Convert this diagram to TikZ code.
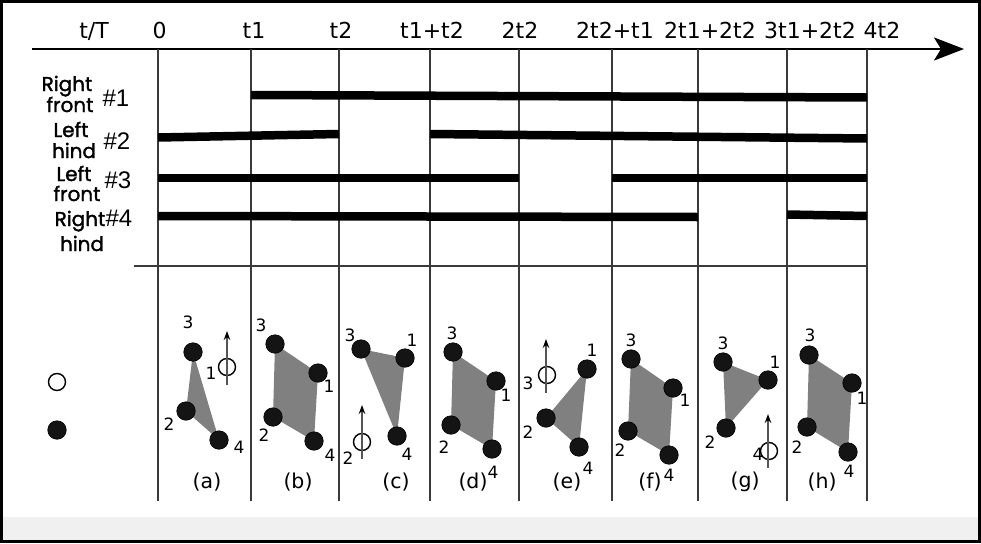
\documentclass[tikz,border=0pt]{standalone}
\usepackage{fontspec}
\setmainfont{DejaVu Sans}
\newfontfamily\legfont{Poppins}[FakeBold=1.6]
\newfontfamily\hashfont{Liberation Sans}
\usetikzlibrary{arrows.meta}
\definecolor{polygray}{HTML}{808080}
\definecolor{dotblack}{HTML}{141414}
\definecolor{bandgray}{HTML}{F0F0F0}
\definecolor{gridgray}{HTML}{3A3A3A}
\definecolor{arrgray}{HTML}{555555}
\tikzset{
 axislbl/.style={font=\fontsize{22}{24}\selectfont, anchor=base, inner sep=0pt},
 leglbl/.style={font=\legfont\fontsize{20}{22}\selectfont, anchor=base, inner sep=0pt},
 hashlbl/.style={font=\hashfont\fontsize{24}{26}\selectfont, anchor=base, inner sep=0pt},
 numlbl/.style={font=\fontsize{17}{19}\selectfont, inner sep=0pt},
 panlbl/.style={font=\fontsize{20.5}{22}\selectfont, inner sep=0pt},
 dot/.style={circle, fill=dotblack, draw=black, line width=0.6pt, minimum size=18.5pt, inner sep=0pt},
 odot/.style={circle, draw=black, line width=1.4pt, minimum size=17pt, inner sep=0pt},
 bar/.style={line width=8.5pt, black},
 gridv/.style={line width=1.5pt, gridgray},
 gridh/.style={line width=1.2pt, gridgray},
 liftarrow/.style={arrgray, line width=1.4pt, -{Stealth[length=9pt,width=6.5pt,color=black]}},
 supportpoly/.style={fill=polygray},
 timeaxis/.style={line width=2.7pt, black, -{Stealth[length=30pt,width=23pt,inset=7pt]}},
}
\begin{document}
\begin{tikzpicture}[x=1pt,y=-1pt]
\useasboundingbox (0,0) rectangle (981,543);
% background band and frame
\fill[bandgray] (3,517) rectangle (978,540);
\draw[line width=3pt] (1.5,1.5) rectangle (979.5,541.5);

% time axis
\coordinate (axs) at (32,49);
\coordinate (axe) at (964,49);
\draw[timeaxis] (axs) -- (axe);

% axis labels
\node[axislbl] (lT) at (94,38) {t/T};
\node[axislbl] (l0) at (159.5,38) {0};
\node[axislbl] (l1) at (254,38) {t1};
\node[axislbl] (l2) at (341,38) {t2};
\node[axislbl] (l3) at (432,38) {t1+t2};
\node[axislbl] (l4) at (520,38) {2t2};
\node[axislbl] (l5) at (615,38) {2t2+t1};
\node[axislbl] (l6) at (710,38) {2t1+2t2};
\node[axislbl] (l7) at (810,38) {3t1+2t2};
\node[axislbl] (l8) at (882,38) {4t2};

% grid
\foreach \xx [count=\i] in {158,251,339,430,519,612,698,787,867}{
  \coordinate (gt\i) at (\xx,49);
  \coordinate (gb\i) at (\xx,501);
  \draw[gridv] (gt\i) -- (gb\i);
}
\coordinate (hl) at (134,266);
\coordinate (hr) at (867,266);
\draw[gridh] (hl) -- (hr);

% leg labels
\node[leglbl] (w1a) at (67,91) {Right};
\node[leglbl] (w1b) at (70,112) {front};
\node[hashlbl] (h1) at (116,106) {\#1};
\node[leglbl] (w2a) at (71,137) {Left};
\node[leglbl] (w2b) at (74,158) {hind};
\node[hashlbl] (h2) at (117,149) {\#2};
\node[leglbl] (w3a) at (74,181) {Left};
\node[leglbl] (w3b) at (77,201) {front};
\node[hashlbl] (h3) at (118,188) {\#3};
\node[leglbl] (w4a) at (80,226) {Right};
\node[leglbl] (w4b) at (82,251) {hind};
\node[hashlbl] (h4) at (119,226) {\#4};

% stance bars
\draw[bar] (251,95) -- (867,97.5);
\draw[bar] (158,137.5) -- (339,134);
\draw[bar] (430,134) -- (867,138.5);
\draw[bar] (158,178) -- (519,178);
\draw[bar] (612,178) -- (867,178);
\draw[bar] (158,216) -- (698,217);
\draw[bar] (787,214.5) -- (867,216);

% legend
\node[odot] (legopen) at (57,382) {};
\node[dot] (legfill) at (57,430) {};

% ---------- panel (a)
\coordinate (a3) at (193,352); \coordinate (a2) at (186,411); \coordinate (a4) at (219,440);
\fill[supportpoly] (a3) -- (a2) -- (a4) -- cycle;
\node[dot] (a3d) at (a3) {}; \node[dot] (a2d) at (a2) {}; \node[dot] (a4d) at (a4) {};
\node[odot] (a1o) at (227,367) {};
\coordinate (a1b) at (227,385); \coordinate (a1t) at (227,331);
\draw[liftarrow] (a1b) -- (a1t);
\node[numlbl] (a3l) at (188,322) {3};
\node[numlbl] (a1l) at (211,373) {1};
\node[numlbl] (a2l) at (169,424) {2};
\node[numlbl] (a4l) at (239,447) {4};
\node[panlbl] (pa) at (207,482) {(a)};

% ---------- panel (b)
\coordinate (b3) at (275,344); \coordinate (b1) at (318,373); \coordinate (b4) at (314,441); \coordinate (b2) at (273,417);
\fill[supportpoly] (b3) -- (b1) -- (b4) -- (b2) -- cycle;
\node[dot] (b3d) at (b3) {}; \node[dot] (b1d) at (b1) {}; \node[dot] (b4d) at (b4) {}; \node[dot] (b2d) at (b2) {};
\node[numlbl] (b3l) at (261,325) {3};
\node[numlbl] (b1l) at (329,386) {1};
\node[numlbl] (b2l) at (264,435) {2};
\node[numlbl] (b4l) at (330,455) {4};
\node[panlbl] (pb) at (298,482) {(b)};

% ---------- panel (c)
\coordinate (c3) at (361,349); \coordinate (c1) at (405,358); \coordinate (c4) at (397,436);
\fill[supportpoly] (c3) -- (c1) -- (c4) -- cycle;
\node[dot] (c3d) at (c3) {}; \node[dot] (c1d) at (c1) {}; \node[dot] (c4d) at (c4) {};
\node[odot] (c2o) at (362,442) {};
\coordinate (c2b) at (362,459); \coordinate (c2t) at (362,405);
\draw[liftarrow] (c2b) -- (c2t);
\node[numlbl] (c3l) at (350,335) {3};
\node[numlbl] (c1l) at (412,340) {1};
\node[numlbl] (c2l) at (348,458) {2};
\node[numlbl] (c4l) at (407,454) {4};
\node[panlbl] (pc) at (396,482) {(c)};

% ---------- panel (d)
\coordinate (d3) at (453,352); \coordinate (d1) at (496,381); \coordinate (d4) at (492,449); \coordinate (d2) at (451,425);
\fill[supportpoly] (d3) -- (d1) -- (d4) -- (d2) -- cycle;
\node[dot] (d3d) at (d3) {}; \node[dot] (d1d) at (d1) {}; \node[dot] (d4d) at (d4) {}; \node[dot] (d2d) at (d2) {};
\node[numlbl] (d3l) at (452,333) {3};
\node[numlbl] (d1l) at (506,395) {1};
\node[numlbl] (d2l) at (444,447) {2};
\node[numlbl] (d4l) at (493,472) {4};
\node[panlbl] (pd) at (473,482) {(d)};

% ---------- panel (e)
\coordinate (e1) at (587,369); \coordinate (e2) at (546,418); \coordinate (e4) at (579,447);
\fill[supportpoly] (e1) -- (e2) -- (e4) -- cycle;
\node[dot] (e1d) at (e1) {}; \node[dot] (e2d) at (e2) {}; \node[dot] (e4d) at (e4) {};
\node[odot] (e3o) at (547,375) {};
\coordinate (e3b) at (546,393); \coordinate (e3t) at (546,339);
\draw[liftarrow] (e3b) -- (e3t);
\node[numlbl] (e1l) at (592,350) {1};
\node[numlbl] (e3l) at (528,383) {3};
\node[numlbl] (e2l) at (528,432) {2};
\node[numlbl] (e4l) at (588,468) {4};
\node[panlbl] (pe) at (567,482) {(e)};

% ---------- panel (f)
\coordinate (f3) at (631,359); \coordinate (f1) at (673,388); \coordinate (f4) at (669,455); \coordinate (f2) at (628,431);
\fill[supportpoly] (f3) -- (f1) -- (f4) -- (f2) -- cycle;
\node[dot] (f3d) at (f3) {}; \node[dot] (f1d) at (f1) {}; \node[dot] (f4d) at (f4) {}; \node[dot] (f2d) at (f2) {};
\node[numlbl] (f3l) at (631,340) {3};
\node[numlbl] (f1l) at (685,400) {1};
\node[numlbl] (f2l) at (620,450) {2};
\node[numlbl] (f4l) at (669,475) {4};
\node[panlbl] (pf) at (650,482) {(f)};

% ---------- panel (g)
\coordinate (g3) at (723,362); \coordinate (g1) at (768,380); \coordinate (g2) at (726,428);
\fill[supportpoly] (g3) -- (g1) -- (g2) -- cycle;
\node[dot] (g3d) at (g3) {}; \node[dot] (g1d) at (g1) {}; \node[dot] (g2d) at (g2) {};
\node[odot] (g4o) at (769,451) {};
\coordinate (g4b) at (768,468); \coordinate (g4t) at (768,414);
\draw[liftarrow] (g4b) -- (g4t);
\node[numlbl] (g3l) at (723,343) {3};
\node[numlbl] (g1l) at (775,362) {1};
\node[numlbl] (g2l) at (710,442) {2};
\node[numlbl] (g4l) at (758,454) {4};
\node[panlbl] (pg) at (745,482) {(g)};

% ---------- panel (h)
\coordinate (h3c) at (809,355); \coordinate (h1c) at (852,383); \coordinate (h4c) at (848,452); \coordinate (h2c) at (807,427);
\fill[supportpoly] (h3c) -- (h1c) -- (h4c) -- (h2c) -- cycle;
\node[dot] (h3d) at (h3c) {}; \node[dot] (h1d) at (h1c) {}; \node[dot] (h4d) at (h4c) {}; \node[dot] (h2d) at (h2c) {};
\node[numlbl] (h3l) at (810,335) {3};
\node[numlbl] (h1l) at (862,398) {1};
\node[numlbl] (h2l) at (797,447) {2};
\node[numlbl] (h4l) at (849,471) {4};
\node[panlbl] (ph) at (822,482) {(h)};
\end{tikzpicture}
\end{document}
